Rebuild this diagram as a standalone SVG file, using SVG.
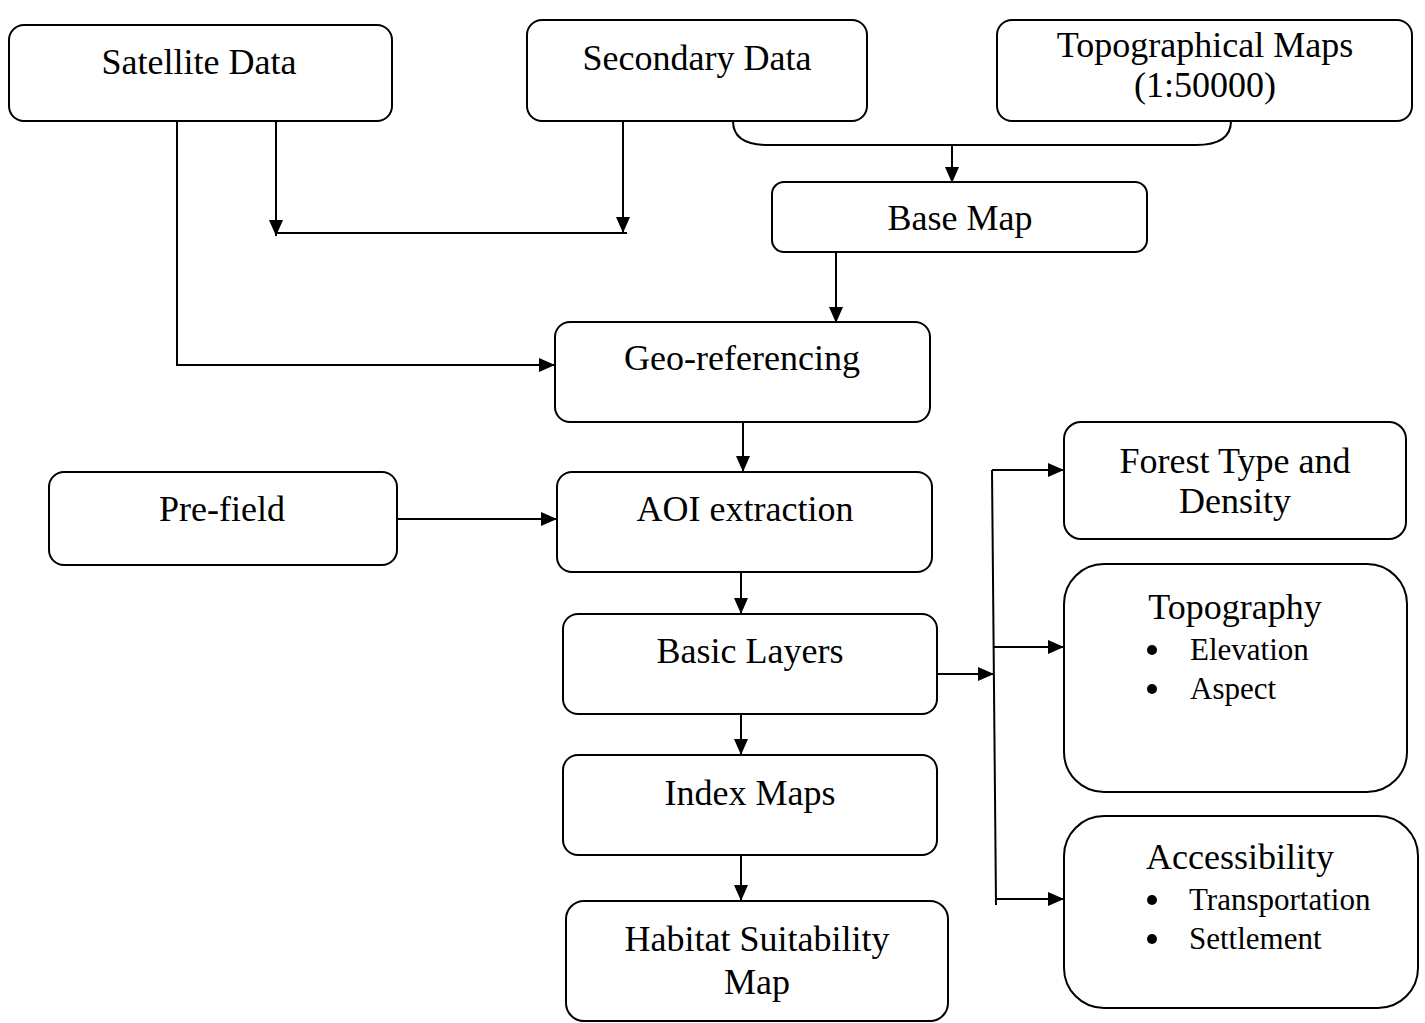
<svg xmlns="http://www.w3.org/2000/svg" width="1425" height="1023" viewBox="0 0 1425 1023">
<style>
.box{fill:#fff;stroke:#000;stroke-width:2}
.t{font-family:"Liberation Serif","Times New Roman",serif;font-size:36px;fill:#000;text-anchor:middle}
.b{font-family:"Liberation Serif","Times New Roman",serif;font-size:31px;fill:#000}
.c{fill:none;stroke:#000;stroke-width:2}
</style>
<defs>
<marker id="ah" viewBox="0 0 16 14" refX="16" refY="7" markerWidth="16" markerHeight="14" markerUnits="userSpaceOnUse" orient="auto">
<path d="M0,0 L16,7 L0,14 Z" fill="#000"/>
</marker>
</defs>
<rect width="1425" height="1023" fill="#fff"/>
<g id="connectors">
<path class="c" d="M177,121 V365 H555" marker-end="url(#ah)"/>
<path class="c" d="M276,121 V236" marker-end="url(#ah)"/>
<path class="c" d="M623,121 V233" marker-end="url(#ah)"/>
<path class="c" d="M276,233 H627"/>
<path class="c" d="M733,121 Q733,145 768,145 H1196 Q1231,145 1231,121"/>
<path class="c" d="M952,145 V183" marker-end="url(#ah)"/>
<path class="c" d="M836,252 V323" marker-end="url(#ah)"/>
<path class="c" d="M743,422 V472" marker-end="url(#ah)"/>
<path class="c" d="M397,519 H557" marker-end="url(#ah)"/>
<path class="c" d="M741,572 V614" marker-end="url(#ah)"/>
<path class="c" d="M741,714 V755" marker-end="url(#ah)"/>
<path class="c" d="M741,855 V901" marker-end="url(#ah)"/>
<path class="c" d="M938,674 H994" marker-end="url(#ah)"/>
<path class="c" d="M992,470 L996,905"/>
<path class="c" d="M992,470 H1064" marker-end="url(#ah)"/>
<path class="c" d="M993,647 H1064" marker-end="url(#ah)"/>
<path class="c" d="M996,899 H1064" marker-end="url(#ah)"/>
</g>
<g id="satellite"><rect class="box" x="9" y="25" width="383" height="96" rx="15"/><text class="t" x="199" y="74">Satellite Data</text></g>
<g id="secondary"><rect class="box" x="527" y="20" width="340" height="101" rx="15"/><text class="t" x="697" y="70">Secondary Data</text></g>
<g id="topomaps"><rect class="box" x="997" y="20" width="415" height="101" rx="15"/><text class="t" x="1205" y="57">Topographical Maps</text><text class="t" x="1205" y="97">(1:50000)</text></g>
<g id="basemap"><rect class="box" x="772" y="182" width="375" height="70" rx="12"/><text class="t" x="960" y="230">Base Map</text></g>
<g id="georef"><rect class="box" x="555" y="322" width="375" height="100" rx="15"/><text class="t" x="742" y="370">Geo-referencing</text></g>
<g id="prefield"><rect class="box" x="49" y="472" width="348" height="93" rx="15"/><text class="t" x="222" y="521">Pre-field</text></g>
<g id="aoi"><rect class="box" x="557" y="472" width="375" height="100" rx="15"/><text class="t" x="745" y="521">AOI extraction</text></g>
<g id="basic"><rect class="box" x="563" y="614" width="374" height="100" rx="15"/><text class="t" x="750" y="663">Basic Layers</text></g>
<g id="index"><rect class="box" x="563" y="755" width="374" height="100" rx="15"/><text class="t" x="750" y="805">Index Maps</text></g>
<g id="habitat"><rect class="box" x="566" y="901" width="382" height="120" rx="18"/><text class="t" x="757" y="951">Habitat Suitability</text><text class="t" x="757" y="994">Map</text></g>
<g id="forest"><rect class="box" x="1064" y="422" width="342" height="117" rx="17"/><text class="t" x="1235" y="473">Forest Type and</text><text class="t" x="1235" y="513">Density</text></g>
<g id="topography"><rect class="box" x="1064" y="564" width="343" height="228" rx="40"/><text class="t" x="1235" y="619">Topography</text>
<circle cx="1152" cy="650" r="5"/><text class="b" x="1190" y="660">Elevation</text>
<circle cx="1152" cy="689" r="5"/><text class="b" x="1190" y="699">Aspect</text></g>
<g id="accessibility"><rect class="box" x="1064" y="816" width="354" height="192" rx="40"/><text class="t" x="1240" y="869">Accessibility</text>
<circle cx="1152" cy="900" r="5"/><text class="b" x="1189" y="910">Transportation</text>
<circle cx="1152" cy="939" r="5"/><text class="b" x="1189" y="949">Settlement</text></g>
</svg>
